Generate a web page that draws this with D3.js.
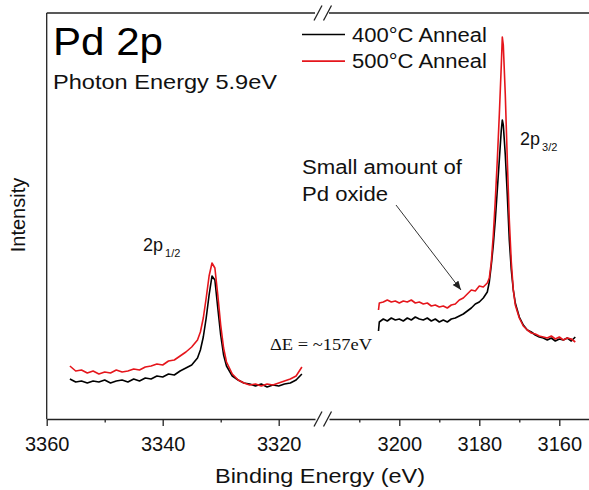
<!DOCTYPE html>
<html>
<head>
<meta charset="utf-8">
<script src="https://cdn.jsdelivr.net/npm/d3@7"></script>
<style>
  body { margin: 0; background: #fff; }
  svg { display: block; font-family: "Liberation Sans", Arial, sans-serif; }
</style>
</head>
<body>
<svg></svg>
<script>
const width = 589;
const height = 490;
const plotLeft = 46.7;
const plotTop = 13;
const plotBottom = 419;
const plotRight = 589;
const breakLeft = 315;
const breakRight = 329;

// ================================
// Data (binding energy in eV, intensity in arbitrary units)
// ================================

const energyLow = [3356, 3355, 3354, 3353, 3352, 3351, 3350, 3349, 3348, 3347, 3346, 3345,
  3344, 3343, 3342, 3341, 3340, 3339, 3338, 3337, 3336, 3335, 3334,
  3333.5, 3333, 3332.5, 3332, 3331.5, 3331, 3330.5, 3330, 3329.5,
  3329, 3328, 3327, 3326, 3325, 3324, 3323, 3322, 3321, 3320, 3319, 3318, 3317, 3316];

const anneal400Low = [40, 37, 38, 36, 38, 37, 39, 36, 38, 39, 37, 40,
  38, 41, 40, 43, 42, 45, 44, 48, 51, 54, 61,
  69, 82, 101, 124, 143, 139, 111, 84, 64,
  53, 43, 39, 36, 35, 33, 35, 32, 34, 33, 35, 36, 39, 45];

const anneal500Low = [53, 48, 49, 46, 48, 45, 47, 46, 49, 47, 48, 50,
  49, 52, 53, 55, 54, 58, 59, 63, 67, 72, 79,
  87, 101, 121, 143, 156, 151, 124, 94, 71,
  57, 45, 39, 36, 34, 35, 33, 35, 34, 36, 38, 40, 43, 52];

const energyHigh = [3205.2, 3205, 3204, 3203, 3202, 3201, 3200, 3199, 3198, 3197, 3196,
  3195, 3194, 3193, 3192, 3191, 3190, 3189, 3188, 3187, 3186, 3185, 3184, 3183, 3182,
  3181, 3180, 3179, 3178,
  3177.5, 3177, 3176.5, 3176, 3175.5, 3175, 3174.5, 3174.25, 3174, 3173.5, 3173,
  3172.5, 3172, 3171.5, 3171,
  3170, 3169, 3168, 3167, 3166, 3165, 3164, 3163, 3162, 3161, 3160, 3159, 3158, 3157, 3156];

const anneal400High = [88, 97, 100, 98, 101, 99, 100, 98, 101, 99, 102,
  100, 99, 101, 98, 100, 97, 99, 97, 100, 101, 103, 105, 108, 111,
  115, 117, 121, 127,
  137, 154, 174, 199, 229, 259, 289, 299, 294, 264, 224,
  179, 149, 129, 116,
  102, 94, 89, 87, 84, 82, 81, 79, 81, 78, 80, 79, 81, 78, 82];

const anneal500High = [109, 116, 117, 119, 117, 118, 116, 118, 117, 119, 116,
  117, 115, 116, 113, 114, 112, 113, 111, 114, 115, 119, 121, 125, 129,
  128, 133, 132, 136,
  141, 157, 184, 219, 259, 304, 354, 382, 374, 324, 259,
  199, 157, 129, 114,
  101, 93, 89, 86, 85, 83, 82, 81, 83, 80, 82, 79, 81, 80, 77];

const ticksLow = [3360, 3340, 3320];
const minorLow = [3350, 3330];
const ticksHigh = [3200, 3180, 3160];
const minorHigh = [3210, 3190, 3170];

const seriesNames = ['400°C Anneal', '500°C Anneal'];
const seriesColors = ['#000000', '#e5161c'];


// ================================
// Scales (broken axis: two segments)
// ================================

const svg = d3.select('svg')
  .attr('width', width)
  .attr('height', height);

const xLow = d3.scaleLinear()
  .domain([3360, 3313.74])
  .range([plotLeft, breakLeft]);

const xHigh = d3.scaleLinear()
  .domain([3217.575, 3152.575])
  .range([breakRight, plotRight]);

const y = d3.scaleLinear()
  .domain([0, 406])
  .range([plotBottom, plotTop]);


// ================================
// Axes
// ================================

function drawAxis(scale, major, minor) {
  const g = svg.append('g')
    .attr('transform', `translate(0,${plotBottom})`);

  g.call(d3.axisBottom(scale)
    .tickValues(major)
    .tickFormat(d3.format('d'))
    .tickSize(7)
    .tickSizeOuter(0)
    .tickPadding(11));

  g.append('g')
    .call(d3.axisBottom(scale)
      .tickValues(minor)
      .tickFormat('')
      .tickSize(3.5)
      .tickSizeOuter(0))
    .select('.domain').remove();

  g.selectAll('path, line')
    .attr('stroke', '#222')
    .attr('stroke-width', 1.3);
  g.selectAll('text')
    .attr('fill', '#111')
    .style('font-size', '20px')
    .style('font-family', '"Liberation Sans", Arial, sans-serif');
}

drawAxis(xLow, ticksLow, minorLow);
drawAxis(xHigh, ticksHigh, minorHigh);

// left and top frame
svg.append('line')
  .attr('x1', plotLeft).attr('y1', plotTop)
  .attr('x2', plotLeft).attr('y2', plotBottom)
  .attr('stroke', '#222').attr('stroke-width', 1.3);

svg.append('line')
  .attr('x1', plotLeft).attr('y1', plotTop)
  .attr('x2', breakLeft).attr('y2', plotTop)
  .attr('stroke', '#222').attr('stroke-width', 1.3);

svg.append('line')
  .attr('x1', breakRight).attr('y1', plotTop)
  .attr('x2', plotRight).attr('y2', plotTop)
  .attr('stroke', '#222').attr('stroke-width', 1.3);

// break marks "//"
[plotTop, plotBottom].forEach(yy => {
  [318, 327.5].forEach(cx => {
    svg.append('line')
      .attr('x1', cx - 4).attr('y1', yy + 7.5)
      .attr('x2', cx + 4).attr('y2', yy - 7.5)
      .attr('stroke', '#222').attr('stroke-width', 1.3);
  });
});

svg.append('text')
  .attr('x', 320)
  .attr('y', 483)
  .attr('text-anchor', 'middle')
  .attr('textLength', 210)
  .attr('lengthAdjust', 'spacingAndGlyphs')
  .style('font-size', '21px')
  .attr('fill', '#111')
  .text('Binding Energy (eV)');

svg.append('text')
  .attr('transform', 'translate(25,215) rotate(-90)')
  .attr('text-anchor', 'middle')
  .style('font-size', '20px')
  .attr('fill', '#111')
  .text('Intensity');


// ================================
// Spectra
// ================================

const lineLow = d3.line()
  .x(d => xLow(d[0]))
  .y(d => y(d[1]));

const lineHigh = d3.line()
  .x(d => xHigh(d[0]))
  .y(d => y(d[1]));

const lowSeries = [anneal400Low, anneal500Low];
const highSeries = [anneal400High, anneal500High];

lowSeries.forEach((vals, i) => {
  svg.append('path')
    .datum(energyLow.map((e, j) => [e, vals[j]]))
    .attr('d', lineLow)
    .attr('fill', 'none')
    .attr('stroke', seriesColors[i])
    .attr('stroke-width', 1.6)
    .attr('stroke-linejoin', 'round');
});

highSeries.forEach((vals, i) => {
  svg.append('path')
    .datum(energyHigh.map((e, j) => [e, vals[j]]))
    .attr('d', lineHigh)
    .attr('fill', 'none')
    .attr('stroke', seriesColors[i])
    .attr('stroke-width', 1.6)
    .attr('stroke-linejoin', 'round');
});


// ================================
// Legend
// ================================

const legend = svg.selectAll('.legend')
  .data(seriesNames)
  .enter()
  .append('g')
    .attr('class', 'legend')
    .attr('transform', (d, i) => `translate(302,${34.5 + i * 26.6})`);

legend.append('line')
  .attr('x1', 0).attr('x2', 43)
  .attr('stroke', (d, i) => seriesColors[i])
  .attr('stroke-width', 1.6);

legend.append('text')
  .attr('x', 50)
  .attr('y', 7.2)
  .attr('textLength', 135)
  .attr('lengthAdjust', 'spacingAndGlyphs')
  .style('font-size', '20px')
  .attr('fill', '#111')
  .text(d => d);


// ================================
// Annotations
// ================================

svg.append('text')
  .attr('x', 53).attr('y', 55)
  .attr('textLength', 110)
  .attr('lengthAdjust', 'spacingAndGlyphs')
  .style('font-size', '39px')
  .attr('fill', '#000')
  .text('Pd 2p');

svg.append('text')
  .attr('x', 53).attr('y', 89)
  .attr('textLength', 224)
  .attr('lengthAdjust', 'spacingAndGlyphs')
  .style('font-size', '21px')
  .attr('fill', '#111')
  .text('Photon Energy 5.9eV');

function peakLabel(x, yy, sub) {
  const t = svg.append('text')
    .attr('x', x).attr('y', yy)
    .attr('fill', '#111')
    .style('font-size', '18px');
  t.append('tspan').text('2p');
  t.append('tspan')
    .attr('dx', 2)
    .attr('dy', 6)
    .style('font-size', '11px')
    .text(sub);
}

peakLabel(143, 251, '1/2');
peakLabel(520, 145, '3/2');

svg.append('text')
  .attr('x', 302).attr('y', 174)
  .attr('textLength', 160)
  .attr('lengthAdjust', 'spacingAndGlyphs')
  .style('font-size', '20px')
  .attr('fill', '#111')
  .text('Small amount of');

svg.append('text')
  .attr('x', 302).attr('y', 201)
  .attr('textLength', 86)
  .attr('lengthAdjust', 'spacingAndGlyphs')
  .style('font-size', '20px')
  .attr('fill', '#111')
  .text('Pd oxide');

svg.append('defs')
  .append('marker')
    .attr('id', 'arrow')
    .attr('viewBox', '0 0 10 10')
    .attr('refX', 10).attr('refY', 5)
    .attr('markerWidth', 9).attr('markerHeight', 9)
    .attr('markerUnits', 'userSpaceOnUse')
    .attr('orient', 'auto')
  .append('path')
    .attr('d', 'M0,1 L10,5 L0,9 Z')
    .attr('fill', '#222');

svg.append('line')
  .attr('x1', 396).attr('y1', 205)
  .attr('x2', 461).attr('y2', 290)
  .attr('stroke', '#333')
  .attr('stroke-width', 1)
  .attr('marker-end', 'url(#arrow)');

svg.append('text')
  .attr('x', 270).attr('y', 350)
  .attr('textLength', 102)
  .attr('lengthAdjust', 'spacingAndGlyphs')
  .style('font-family', '"Liberation Serif", "Times New Roman", serif')
  .style('font-size', '17px')
  .attr('fill', '#111')
  .text('ΔE = ~157eV');
</script>
</body>
</html>
